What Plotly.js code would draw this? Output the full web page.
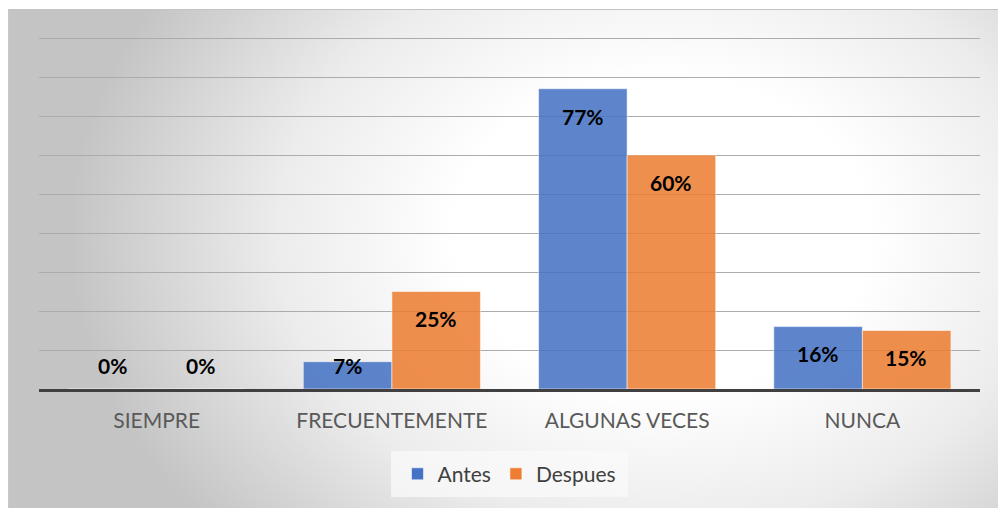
<!DOCTYPE html>
<html>
<head>
<meta charset="utf-8">
<script src="https://cdn.plot.ly/plotly-3.0.1.min.js"></script>
<style>
  html, body { margin: 0; padding: 0; background: #ffffff; }
  #wrap { position: relative; width: 998px; height: 508px; overflow: hidden; }
  #frame {
    position: absolute; left: 8px; top: 9px; width: 990px; height: 499px;
    border-top: 1px solid #c4c4c4; border-left: 1px solid #c8c8c8;
    background: radial-gradient(ellipse 60% 90% at 66% 45%, #ffffff 0%, #ffffff 35%, #ececec 65%, #c4c4c4 100%);
  }
  #plot { position: absolute; left: 0; top: 0; width: 998px; height: 508px; }
</style>
</head>
<body>
<div id="wrap">
  <div id="frame"></div>
  <div id="plot"></div>
</div>
<script>
// datos
let categorias = ["SIEMPRE", "FRECUENTEMENTE", "ALGUNAS VECES", "NUNCA"];
let antes = [0, 0.07, 0.77, 0.16];
let despues = [0, 0.25, 0.60, 0.15];

let traceAntes = {
    x: categorias,
    y: antes,
    name: "Antes",
    type: "bar",
    marker: {
        color: "#4472C4",
        opacity: 0.86,
        line: {color: "rgba(255,255,255,0.55)", width: 1}
    },
    hoverinfo: "skip"
};
let traceDespues = {
    x: categorias,
    y: despues,
    name: "Despues",
    type: "bar",
    marker: {
        color: "#ED7D31",
        opacity: 0.86,
        line: {color: "rgba(255,255,255,0.55)", width: 1}
    },
    hoverinfo: "skip"
};

// etiquetas de porcentaje dentro de las barras
function etiquetas(valores, shift) {
    return valores.map((v, i) => ({
        x: categorias[i],
        y: Math.max(v - 0.07, 0.06),
        xref: "x",
        yref: "y",
        xshift: shift,
        text: Math.round(v * 100) + "%",
        showarrow: false,
        font: {family: "Lato, 'Open Sans', sans-serif", size: 21, color: "#000000", weight: "bold"}
    }));
}

let anotaciones = etiquetas(antes, -44).concat(etiquetas(despues, 44));

let layout = {
    width: 998,
    height: 508,
    margin: {l: 39, r: 18, t: 37, b: 119},
    paper_bgcolor: "rgba(0,0,0,0)",
    plot_bgcolor: "rgba(0,0,0,0)",
    barmode: "group",
    bargap: 0.247,
    bargroupgap: 0,
    font: {family: "Lato, 'Open Sans', sans-serif", color: "#595959"},
    xaxis: {
        type: "category",
        showline: true,
        linecolor: "#404040",
        linewidth: 3,
        ticks: "outside",
        ticklen: 11,
        tickcolor: "rgba(0,0,0,0)",
        tickfont: {size: 21, color: "#595959"},
        showgrid: false,
        fixedrange: true
    },
    yaxis: {
        range: [0, 0.9026],
        dtick: 0.1,
        showticklabels: false,
        showgrid: true,
        gridcolor: "#acacac",
        gridwidth: 1,
        zeroline: false,
        fixedrange: true
    },
    showlegend: true,
    legend: {
        orientation: "h",
        x: 0.5,
        xanchor: "center",
        y: -0.242,
        yanchor: "middle",
        bgcolor: "rgba(0,0,0,0)",
        font: {size: 21, color: "#404040"},
        itemclick: false,
        itemdoubleclick: false
    },
    shapes: [{
        type: "rect",
        xref: "paper",
        yref: "paper",
        x0: (391 - 39) / 941,
        x1: (628 - 39) / 941,
        y0: (389 - 497) / 352,
        y1: (389 - 451) / 352,
        fillcolor: "rgba(250,250,250,0.75)",
        line: {width: 0},
        layer: "below"
    }],
    annotations: anotaciones
};

Plotly.newPlot("plot", [traceAntes, traceDespues], layout, {displayModeBar: false, staticPlot: true});
</script>
</body>
</html>
